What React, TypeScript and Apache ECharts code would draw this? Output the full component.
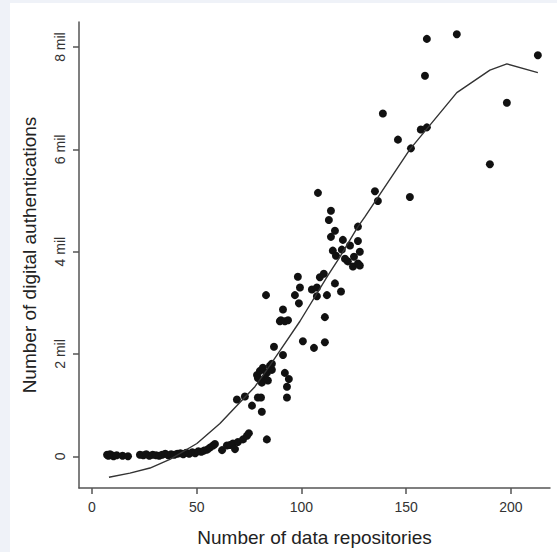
import React, { useEffect, useRef } from "react";
import * as echarts from "echarts";

// Number of data repositories (x) and digital authentications in millions (y)
const repositories = [
  7.2, 7.8, 8.6, 9.4, 10.3, 11.8, 14.6, 17.2, 22.9, 24.5, 25.9, 27.4, 29.0, 30.6, 32.1, 33.5, 35.0, 36.4, 37.8, 39.3,
  40.7, 42.2, 43.6, 45.0, 46.4, 47.9, 49.3, 50.8, 52.2, 53.5, 55.0, 56.3, 57.8, 58.7, 62.1, 64.4, 65.9, 67.3, 68.3, 69.7,
  72.1, 74.0, 74.9, 83.5, 69.2, 73.0, 76.4, 79.2, 80.7, 81.1, 78.8, 80.2, 81.6, 83.5, 85.0, 85.9, 81.1, 79.2, 82.6, 84.0,
  83.1, 86.9, 90.2, 85.9, 92.1, 94.0, 93.1, 93.1, 91.2, 91.2, 89.7, 92.1, 93.6, 98.3, 99.3, 96.9, 98.8, 100.7, 106.0, 111.2,
  111.2, 112.2, 107.4, 105.0, 107.4, 108.8, 110.7, 116.0, 118.9, 107.9, 114.1, 113.1, 116.0, 114.1, 119.8, 127.0, 127.0, 115.0, 116.5, 119.3,
  123.2, 127.9, 120.8, 122.2, 125.1, 124.6, 127.0, 127.9, 135.1, 136.5, 151.8, 138.9, 146.1, 152.3, 157.0, 159.9, 159.0, 159.9, 174.2, 190.0,
  198.1, 212.9,
];
const authenticationsMil = [
  0.03, 0.01, 0.04, 0.02, 0.0, 0.02, 0.01, 0.0, 0.03, 0.02, 0.04, 0.01, 0.03, 0.02, 0.01, 0.03, 0.05, 0.02, 0.04, 0.03,
  0.05, 0.06, 0.04, 0.07, 0.05, 0.08, 0.06, 0.1, 0.09, 0.11, 0.13, 0.17, 0.21, 0.24, 0.12, 0.21, 0.22, 0.25, 0.14, 0.28,
  0.33, 0.4, 0.45, 0.33, 1.11, 1.17, 0.99, 1.15, 1.15, 0.87, 1.59, 1.67, 1.73, 1.63, 1.77, 1.69, 1.44, 1.53, 1.53, 1.48,
  3.15, 2.14, 2.66, 1.81, 1.63, 1.51, 1.36, 1.15, 1.98, 2.87, 2.64, 2.64, 2.66, 3.51, 3.3, 3.15, 2.99, 2.25, 2.12, 2.23,
  2.72, 3.15, 3.13, 3.26, 3.3, 3.5, 3.57, 3.38, 3.22, 5.15, 4.8, 4.62, 4.41, 4.29, 4.23, 4.49, 4.21, 4.02, 3.92, 4.04,
  4.12, 4.0, 3.86, 3.81, 3.9, 3.71, 3.77, 3.73, 5.18, 4.99, 5.07, 6.7, 6.19, 6.02, 6.39, 6.43, 7.44, 8.16, 8.25, 5.71,
  6.91, 7.84,
];

// Fitted curve
const fitX = [8.1, 18.1, 27.7, 37.2, 50.1, 61.1, 70.6, 77.8, 83.5, 89.7, 99.3, 112.6, 118.4, 127.0, 130.3, 151.8, 174.2, 190.0, 198.1, 212.9];
const fitY = [-0.41, -0.33, -0.23, -0.06, 0.25, 0.64, 1.05, 1.36, 1.69, 2.06, 2.64, 3.53, 3.9, 4.49, 4.68, 6.0, 7.11, 7.55, 7.67, 7.5];

const xTicks = [0, 50, 100, 150, 200];
const yTicks = [0, 2, 4, 6, 8];

const FONT = "Liberation Sans, Arial, Helvetica, sans-serif";

export default function App() {
  const ref = useRef<HTMLDivElement>(null);
  useEffect(() => {
    if (!ref.current) return;
    const chart = echarts.init(ref.current, undefined, { renderer: "svg" });
    const points = repositories.map((x, i) => [x, authenticationsMil[i]]);
    const fit = fitX.map((x, i) => [x, fitY[i]]);
    chart.setOption({
      animation: false,
      backgroundColor: "#eff2f8",
      graphic: [
        {
          type: "rect",
          z: -10,
          silent: true,
          shape: { x: 10, y: 3, width: 547, height: 549 },
          style: { fill: "#ffffff" },
        },
      ],
      grid: { left: 79, right: 7, top: 22, bottom: 61, containLabel: false },
      xAxis: {
        type: "value",
        min: -6.2,
        max: 218.7,
        splitLine: { show: false },
        axisLine: { show: true, onZero: false, lineStyle: { color: "#555", width: 1.5 } },
        axisTick: { show: true, length: 6, customValues: xTicks, lineStyle: { color: "#555", width: 1.5 } },
        axisLabel: { customValues: xTicks, margin: 12, color: "#333", fontSize: 14, fontFamily: FONT },
        name: "Number of data repositories",
        nameLocation: "middle",
        nameGap: 40,
        nameTextStyle: { color: "#222", fontSize: 19, fontFamily: FONT },
      },
      yAxis: {
        type: "value",
        min: -0.62,
        max: 8.49,
        splitLine: { show: false },
        axisLine: { show: true, onZero: false, lineStyle: { color: "#555", width: 1.5 } },
        axisTick: { show: true, length: 6, customValues: yTicks, lineStyle: { color: "#555", width: 1.5 } },
        axisLabel: {
          customValues: yTicks,
          rotate: 90,
          margin: 12,
          color: "#333",
          fontSize: 14,
          fontFamily: FONT,
          formatter: (v: number) => (v === 0 ? "0" : `${v} mil`),
        },
        name: "Number of digital authentications",
        nameLocation: "middle",
        nameGap: 40,
        nameTextStyle: { color: "#222", fontSize: 19, fontFamily: FONT },
      },
      series: [
        {
          type: "scatter",
          data: points,
          symbol: "circle",
          symbolSize: 8,
          itemStyle: { color: "#111", opacity: 1 },
          z: 3,
        },
        {
          type: "line",
          data: fit,
          showSymbol: false,
          symbol: "none",
          lineStyle: { color: "#333", width: 1.4 },
          z: 4,
        },
      ],
    });
    return () => chart.dispose();
  }, []);
  return <div ref={ref} style={{ position: "fixed", left: 0, top: 0, width: 557, height: 552 }} />;
}
